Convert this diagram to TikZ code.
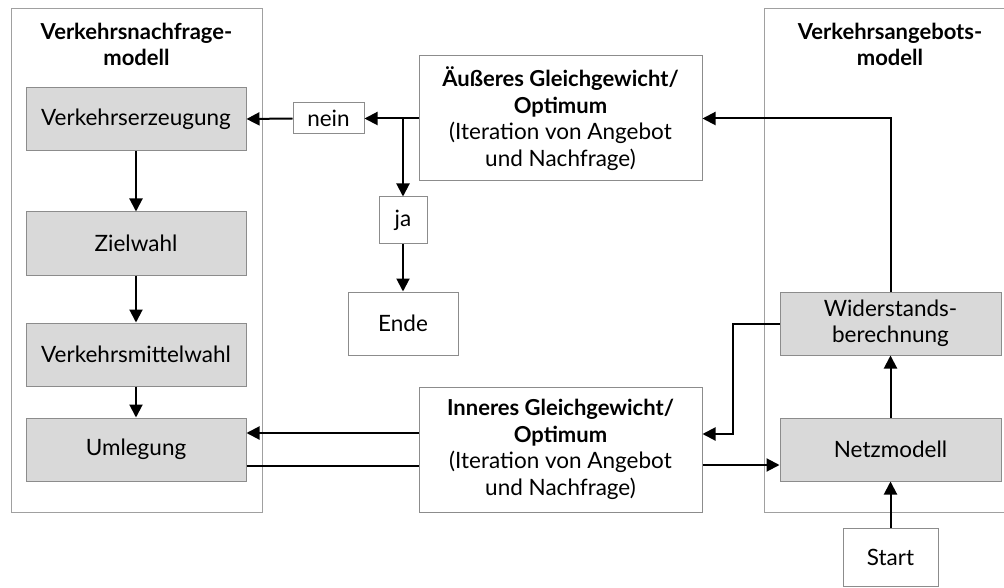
\documentclass[tikz,border=0pt]{standalone}
\usepackage{fontspec}
\setmainfont{Lato}
\usetikzlibrary{arrows.meta,calc}
\definecolor{boxfill}{RGB}{217,217,217}
\definecolor{boxline}{RGB}{140,140,140}
\definecolor{frameline}{RGB}{160,160,160}
\newcommand{\hd}[1]{{\fontsize{22}{26.5}\selectfont\bfseries #1}}
\tikzset{
  every node/.style={font=\fontsize{22.5}{26.5}\selectfont, inner sep=0pt, align=center},
  frame/.style={draw=frameline, line width=1pt},
  graybox/.style={draw=boxline, fill=boxfill, line width=1pt, minimum width=220pt, minimum height=63pt},
  whitebox/.style={draw=boxline, fill=white, line width=1pt},
  title/.style={font=\fontsize{22}{26}\selectfont\bfseries},
  flow/.style={line width=2pt, -{Triangle[length=13pt,width=13pt]}},
  plain/.style={line width=2pt},
}
\begin{document}
\begin{tikzpicture}[x=1pt,y=-1pt]
\useasboundingbox (0,0) rectangle (1004,588);

% demand model frame
\node[frame, minimum width=251pt, minimum height=503pt] (dem) at (136.5,260.5) {};
\node[title] (demt) at (136.5,44) {Verkehrsnachfrage-\\modell};
\node[graybox] (erz) at (136,119) {Verkehrserzeugung};
\node[graybox] (ziel) at (136,243.5) {Zielwahl};
\node[graybox] (vmw) at (136,354.5) {Verkehrsmittelwahl};
\node[graybox] (uml) at (136,449.5) {Umlegung};

% supply model frame
\node[frame, minimum width=240pt, minimum height=503pt] (sup) at (884,260.5) {};
\node[title] (supt) at (890,44) {Verkehrsangebots-\\modell};
\node[graybox, minimum width=221pt] (wid) at (890.5,323.5) {Widerstands-\\berechnung};
\node[graybox, minimum width=221pt] (netz) at (890.5,449.5) {Netzmodell};
\node[whitebox, minimum width=95pt, minimum height=58pt] (start) at (890.5,557) {Start};

% equilibrium boxes
\node[whitebox, minimum width=283pt, minimum height=125pt] (aus) at (560.5,118.5)
  {\hd{Äußeres Gleichgewicht/}\\\hd{Optimum}\\(Iteration von Angebot\\und Nachfrage)};
\node[whitebox, minimum width=283pt, minimum height=125pt] (inn) at (560.5,449.5)
  {\hd{Inneres Gleichgewicht/}\\\hd{Optimum}\\(Iteration von Angebot\\und Nachfrage)};

\node[whitebox, minimum width=71pt, minimum height=31pt] (nein) at (328.5,118.5) {nein};
\node[whitebox, minimum width=48pt, minimum height=47pt] (ja) at (403,220.5) {ja};
\node[whitebox, minimum width=110pt, minimum height=63pt] (ende) at (403,323.5) {Ende};
\coordinate (split) at (403,118.5);

% demand chain
\draw[flow] (erz) -- (ziel);
\draw[flow] (ziel) -- (vmw);
\draw[flow] (vmw) -- (uml);

% outer loop
\draw[flow] (aus.west) -- (nein.east);
\draw[flow] (nein.west) -- (erz.east);
\draw[flow] (split) -- (ja.north);
\draw[flow] (ja.south) -- (ende.north);
\draw[flow] (wid.north) |- (aus.east);

% inner loop
\draw[flow] ([yshift=16.5pt]inn.west) -- ([yshift=16.5pt]uml.east);
\draw[plain] ([yshift=-16.5pt]uml.east) -- ([yshift=-16.5pt]inn.west);
\draw[flow] ([yshift=-15.5pt]inn.east) -- ([yshift=-15.5pt]netz.west);
\draw[flow] (wid.west) -- ++(-47,0) |- ([yshift=15.5pt]inn.east);

% supply chain
\draw[flow] (start.north) -- (netz.south);
\draw[flow] (netz.north) -- (wid.south);
\end{tikzpicture}
\end{document}
